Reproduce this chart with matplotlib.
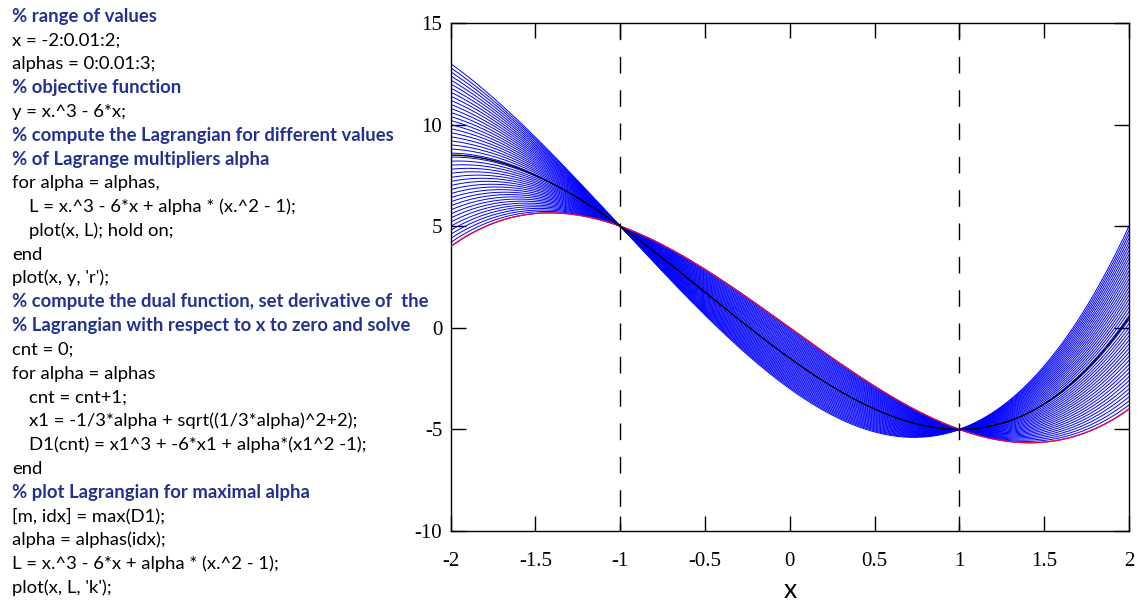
import numpy as np
import matplotlib
matplotlib.use("Agg")
import matplotlib.pyplot as plt

# ---------------- data ----------------
x_start, x_stop, x_step = -2.0, 2.0, 0.01
alphas = [0.000, 0.067, 0.133, 0.200, 0.267, 0.333, 0.400, 0.467, 0.533, 0.600,
          0.667, 0.733, 0.800, 0.867, 0.933, 1.000, 1.067, 1.133, 1.200, 1.267,
          1.333, 1.400, 1.467, 1.533, 1.600, 1.667, 1.733, 1.800, 1.867, 1.933,
          2.000, 2.067, 2.133, 2.200, 2.267, 2.333, 2.400, 2.467, 2.533, 2.600,
          2.667, 2.733, 2.800, 2.867, 2.933, 3.000]
alpha_best = 1.5
constraint_x = [-1, 1]
xticks = [-2, -1.5, -1, -0.5, 0, 0.5, 1, 1.5, 2]
xticklabels = ["-2", "-1.5", "-1", "-0.5", "0", "0.5", "1", "1.5", "2"]
yticks = [-10, -5, 0, 5, 10, 15]
yticklabels = ["-10", "-5", "0", "5", "10", "15"]

code_lines = [
    ("% range of values", True, 0),
    ("x = -2:0.01:2;", False, 0),
    ("alphas = 0:0.01:3;", False, 0),
    ("% objective function", True, 0),
    ("y = x.^3 - 6*x;", False, 0),
    ("% compute the Lagrangian for different values", True, 0),
    ("% of Lagrange multipliers alpha", True, 0),
    ("for alpha = alphas,", False, 0),
    ("L = x.^3 - 6*x + alpha * (x.^2 - 1);", False, 1),
    ("plot(x, L); hold on;", False, 1),
    ("end", False, 0),
    ("plot(x, y, 'r');", False, 0),
    ("% compute the dual function, set derivative of  the", True, 0),
    ("% Lagrangian with respect to x to zero and solve", True, 0),
    ("cnt = 0;", False, 0),
    ("for alpha = alphas", False, 0),
    ("cnt = cnt+1;", False, 1),
    ("x1 = -1/3*alpha + sqrt((1/3*alpha)^2+2);", False, 1),
    ("D1(cnt) = x1^3 + -6*x1 + alpha*(x1^2 -1);", False, 1),
    ("end", False, 0),
    ("% plot Lagrangian for maximal alpha", True, 0),
    ("[m, idx] = max(D1);", False, 0),
    ("alpha = alphas(idx);", False, 0),
    ("L = x.^3 - 6*x + alpha * (x.^2 - 1);", False, 0),
    ("plot(x, L, 'k');", False, 0),
]

# ---------------- figure ----------------
W, H = 1141, 603
plt.rcParams["axes.unicode_minus"] = False
fig = plt.figure(figsize=(W / 100, H / 100), dpi=100)

ax_l, ax_r, ax_t, ax_b = 450.7, 1129, 23, 531
ax = fig.add_axes([ax_l / W, (H - ax_b) / H, (ax_r - ax_l) / W, (ax_b - ax_t) / H])

x = np.arange(x_start, x_stop + x_step / 2, x_step)
for a in alphas:
    L = x ** 3 - 6 * x + a * (x ** 2 - 1)
    ax.plot(x, L, color="#0000ff", lw=0.7, zorder=2)
y = x ** 3 - 6 * x
ax.plot(x, y, color="#e0103c", lw=1.0, zorder=3)
Lb = x ** 3 - 6 * x + alpha_best * (x ** 2 - 1)
ax.plot(x, Lb, color="black", lw=1.0, zorder=4)

for cx in constraint_x:
    ax.plot([cx, cx], [15, -10], color="black", lw=1.0,
            linestyle=(0, (12, 12)), zorder=1)

ax.set_xlim(-2, 2)
ax.set_ylim(-10, 15)
ax.set_xticks(xticks)
ax.set_xticklabels(xticklabels)
ax.set_yticks(yticks)
ax.set_yticklabels(yticklabels)
serif = "Liberation Serif"
for lab in ax.get_xticklabels() + ax.get_yticklabels():
    lab.set_fontfamily(serif)
    lab.set_fontsize(15)
ax.tick_params(axis="both", direction="in", length=11, width=1.0,
               top=True, right=True, color="black")
ax.tick_params(axis="x", pad=15)
ax.tick_params(axis="y", pad=6)
for s in ax.spines.values():
    s.set_color("black")
    s.set_linewidth(1.0)
ax.set_xlabel("x", fontfamily="Lato", fontsize=19, labelpad=5)

# ---------------- code text ----------------
base0 = 21.7
step = 23.8
for i, (txt, bold, indent) in enumerate(code_lines):
    xpix = 12 + indent * 17
    ypix = base0 + i * step
    fig.text(xpix / W, 1 - ypix / H, txt,
             fontfamily="Lato",
             fontweight="bold" if bold else "normal",
             fontsize=13.3,
             color="#233291" if bold else "black",
             ha="left", va="baseline")

fig.savefig("out.png", dpi=100)
